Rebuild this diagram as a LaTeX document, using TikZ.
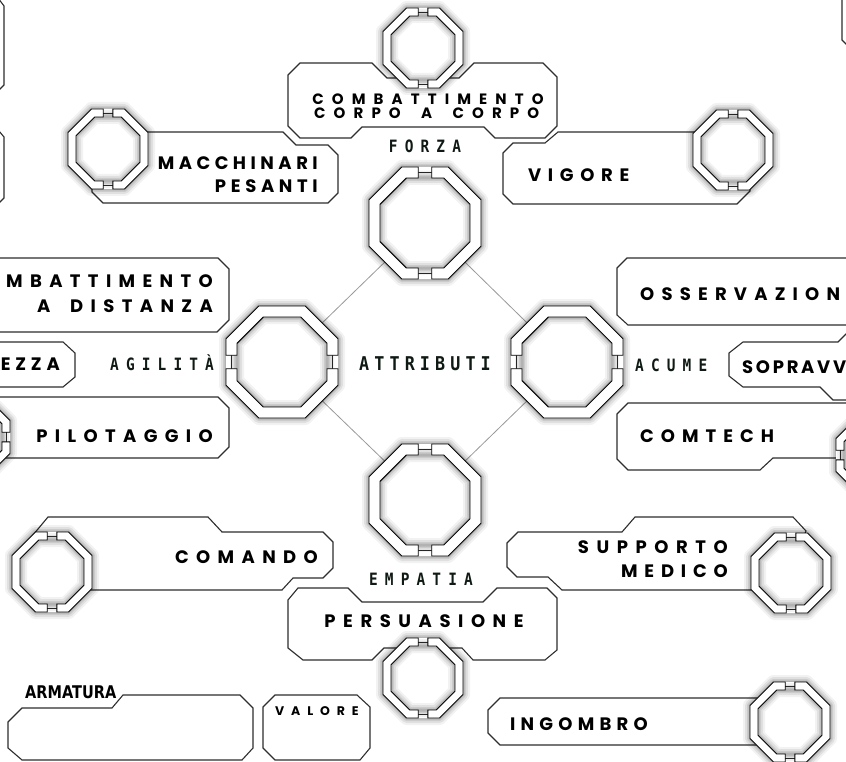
\documentclass[tikz,border=0pt]{standalone}
\usepackage{fontspec}
\newfontfamily\skillfont{Poppins}[UprightFont=* Bold]
\newfontfamily\labfont{DejaVu Sans Mono}[UprightFont=* Bold, FakeStretch=0.85, LetterSpace=42]
\newfontfamily\attrfont{DejaVu Sans Mono}[UprightFont=* Bold, FakeStretch=0.88, LetterSpace=27]
\newfontfamily\armfont{DejaVu Sans}[UprightFont=* Bold, FakeStretch=0.83]
\newcommand{\lettersp}[2]{{\addfontfeatures{LetterSpace=#1}#2}}
\definecolor{labcol}{HTML}{101A14}
\definecolor{boxcol}{HTML}{2E2E2E}
\definecolor{diagcol}{HTML}{9A9A9A}
\tikzset{
  skillbox/.style={draw=boxcol, line width=1.1pt, fill=white, line join=miter},
  skilltxt/.style={inner sep=0pt, text height=13pt, text depth=0pt, font={\skillfont\fontsize{18}{18}\selectfont}, text=black},
  ccctxt/.style={inner sep=0pt, text height=10pt, text depth=0pt, font={\skillfont\fontsize{15}{15}\selectfont}, text=black},
  smalltxt/.style={inner sep=0pt, text height=9pt, text depth=0pt, font={\skillfont\fontsize{12.5}{12.5}\selectfont}, text=black},
  labtxt/.style={inner sep=0pt, text height=12pt, text depth=0pt, font={\labfont\fontsize{17}{17}\selectfont}, text=labcol},
  attrtxt/.style={inner sep=0pt, text height=14pt, text depth=0pt, font={\attrfont\fontsize{19}{19}\selectfont}, text=labcol},
  armtxt/.style={inner sep=0pt, text height=13pt, text depth=0pt, font={\armfont\fontsize{17.5}{17.5}\selectfont}, text=black},
  ringpart/.style={draw=black, line width=0.9pt, fill=white, line join=miter},
  ringbridge/.style={draw=black!85, line width=0.9pt},
  diamondline/.style={draw=diagcol, line width=0.8pt},
}
% #1 coordinate name, #2 apothem, #3 thickness, #4 rotation
\newcommand{\ringicon}[4]{%
  \begin{scope}[shift={(#1)},rotate=#4]
    \pgfmathsetmacro\RA{#2}\pgfmathsetmacro\RF{#2*0.41421}%
    \pgfmathsetmacro\RI{#2-#3}\pgfmathsetmacro\RIF{(#2-#3)*0.41421}%
    \pgfmathsetmacro\RG{#2*0.12}\pgfmathsetmacro\RM{#2-#3/2}%
    \foreach \w/\o in {14/0.05,10/0.07,6/0.09,3/0.12}{%
      \draw[line width=\w pt, black, opacity=\o, line join=round]
        (-\RF,-\RA)--(\RF,-\RA)--(\RA,-\RF)--(\RA,\RF)--(\RF,\RA)--(-\RF,\RA)--(-\RA,\RF)--(-\RA,-\RF)--cycle;}
    \fill[white] (-\RF,-\RA)--(\RF,-\RA)--(\RA,-\RF)--(\RA,\RF)--(\RF,\RA)--(-\RF,\RA)--(-\RA,\RF)--(-\RA,-\RF)--cycle;
    \foreach \w/\o in {14/0.05,10/0.07,6/0.09,3/0.12}{%
      \draw[line width=\w pt, black, opacity=\o, line join=round]
        (-\RIF,-\RI)--(\RIF,-\RI)--(\RI,-\RIF)--(\RI,\RIF)--(\RIF,\RI)--(-\RIF,\RI)--(-\RI,\RIF)--(-\RI,-\RIF)--cycle;}
    \draw[ringbridge] (-\RG,-\RM)--(\RG,-\RM) (-\RG,\RM)--(\RG,\RM);
    \draw[ringpart] (\RG,-\RA)--(\RF,-\RA)--(\RA,-\RF)--(\RA,\RF)--(\RF,\RA)--(\RG,\RA)--(\RG,\RI)--(\RIF,\RI)--(\RI,\RIF)--(\RI,-\RIF)--(\RIF,-\RI)--(\RG,-\RI)--cycle;
    \draw[ringpart] (-\RG,-\RA)--(-\RF,-\RA)--(-\RA,-\RF)--(-\RA,\RF)--(-\RF,\RA)--(-\RG,\RA)--(-\RG,\RI)--(-\RIF,\RI)--(-\RI,\RIF)--(-\RI,-\RIF)--(-\RIF,-\RI)--(-\RG,-\RI)--cycle;
  \end{scope}}
\begin{document}
\begin{tikzpicture}[x=1pt,y=-1pt]
\useasboundingbox (0,0) rectangle (846,762);
\clip (0,0) rectangle (846,762);
\fill[white] (0,0) rectangle (846,762);
% ring centres
\coordinate (rF) at (425,223);
\coordinate (rA) at (282,362);
\coordinate (rC) at (567,362);
\coordinate (rE) at (425,500);
\coordinate (rCCC) at (423,48);
\coordinate (rMAC) at (108,149);
\coordinate (rVIG) at (733,150);
\coordinate (rCOM) at (52,572);
\coordinate (rSUP) at (791,573);
\coordinate (rPER) at (423,678);
\coordinate (rING) at (790,722);
\coordinate (rPIL) at (-30,437);
\coordinate (rCT) at (876,455);
% boxes at the edges
\draw[skillbox] (-20,-2)--(-2,-2)--(4,6)--(4,85)--(-1,90)--(-20,90)--cycle;
\draw[skillbox] (-20,131)--(-1,131)--(4,137)--(4,198)--(-1,203)--(-20,203)--cycle;
\draw[skillbox] (842,-5)--(842,40)--(848,46)--(860,46)--(860,-5)--cycle;
% skill boxes
\draw[skillbox] (300,63)--(372,63)--(387,78)--(459,78)--(474,63)--(543,63)--(557,77)--(557,126)--(545,138)--(495,138)--(484,127)--(362,127)--(351,138)--(300,138)--(288,126)--(288,75)--cycle;
\draw[skillbox] (140,132)--(283,132)--(296,145)--(328,145)--(338,155)--(338,193)--(328,203)--(103,203)--(92,192)--(92,180)--cycle;
\draw[skillbox] (700,132)--(558,132)--(545,143)--(513,143)--(503,153)--(503,194)--(513,204)--(737,204)--(750,191)--(750,180)--cycle;
\draw[skillbox] (-20,258)--(218,258)--(229,269)--(229,320)--(217,332)--(-20,332)--cycle;
\draw[skillbox] (-20,342)--(63,342)--(75,353)--(75,377)--(63,387)--(-20,387)--cycle;
\draw[skillbox] (-20,397)--(218,397)--(229,408)--(229,447)--(218,458)--(-20,458)--cycle;
\draw[skillbox] (870,258)--(627,258)--(617,268)--(617,315)--(628,325)--(870,325)--cycle;
\draw[skillbox] (743,342)--(838,342)--(846,334)--(870,334)--(870,400)--(833,400)--(820,387)--(743,387)--(729,376)--(729,353)--cycle;
\draw[skillbox] (628,403)--(870,403)--(870,458)--(773,458)--(760,470)--(628,470)--(617,459)--(617,414)--cycle;
\draw[skillbox] (33,535)--(48,517)--(208,517)--(222,532)--(323,532)--(333,542)--(333,568)--(323,578)--(293,578)--(282,590)--(88,590)--cycle;
\draw[skillbox] (507,543)--(518,532)--(622,532)--(635,517)--(793,517)--(806,531)--(800,545)--(760,590)--(562,590)--(548,577)--(517,577)--(507,567)--cycle;
\draw[skillbox] (298,588)--(348,588)--(362,602)--(483,602)--(497,588)--(547,588)--(557,598)--(557,650)--(545,660)--(473,660)--(462,648)--(384,648)--(372,660)--(303,660)--(288,648)--(288,600)--cycle;
\draw[skillbox] (500,698)--(765,698)--(765,745)--(500,745)--(488,733)--(488,710)--cycle;
\draw[skillbox] (123,695)--(240,695)--(253,708)--(253,748)--(242,760)--(22,760)--(8,748)--(8,722)--(22,708)--(112,708)--cycle;
\draw[skillbox] (275,695)--(357,695)--(370,707)--(370,748)--(360,760)--(275,760)--(263,748)--(263,707)--cycle;
% diamond
\draw[diamondline] (rF) -- (rA);
\draw[diamondline] (rA) -- (rE);
\draw[diamondline] (rE) -- (rC);
\draw[diamondline] (rC) -- (rF);
% rings
\ringicon{rF}{56}{11}{0}
\ringicon{rA}{56}{11}{90}
\ringicon{rC}{56}{11}{90}
\ringicon{rE}{56}{11}{0}
\ringicon{rCCC}{40}{8}{0}
\ringicon{rMAC}{40}{8}{0}
\ringicon{rVIG}{40}{8}{0}
\ringicon{rCOM}{40}{8}{0}
\ringicon{rSUP}{40}{8}{0}
\ringicon{rPER}{40}{8}{0}
\ringicon{rING}{40}{8}{0}
\ringicon{rPIL}{40}{8}{90}
\ringicon{rCT}{40}{8}{90}
% texts
\node[ccctxt, anchor=base] (tCCC1) at (428,105) {\lettersp{54}{COMBATTIMENTO}};
\node[ccctxt, anchor=base west] (tCCC2a) at (314,118.5) {\lettersp{54}{CORPO}};
\node[ccctxt, anchor=base west] (tCCC2b) at ([xshift=20pt]tCCC2a.base east) {\lettersp{54}{A}};
\node[ccctxt, anchor=base west] (tCCC2c) at ([xshift=20pt]tCCC2b.base east) {\lettersp{54}{CORPO}};
\node[labtxt, anchor=base] (tFOR) at (425,153) {FORZA};
\node[skilltxt, anchor=base east] (tMAC1) at (318,170) {\lettersp{25}{MACCHINARI}};
\node[skilltxt, anchor=base east] (tMAC2) at (318,193) {\lettersp{26}{PESANTI}};
\node[skilltxt, anchor=base west] (tVIG) at (528,182) {\lettersp{37}{VIGORE}};
\node[skilltxt, anchor=base east] (tDIS1) at (213,287) {\lettersp{41}{MBATTIMENTO}};
\node[skilltxt, anchor=base west] (tDIS2a) at (37,312) {\lettersp{41}{A}};
\node[skilltxt, anchor=base east] (tDIS2b) at (213,312) {\lettersp{41}{DISTANZA}};
\node[skilltxt, anchor=base east] (tEZZ) at (60,370) {\lettersp{27}{EZZA}};
\node[labtxt, anchor=base west] (tAGI) at (110,370) {AGILITÀ};
\node[skilltxt, anchor=base east] (tPIL) at (213,442) {\lettersp{41}{PILOTAGGIO}};
\node[attrtxt, anchor=base] (tATT) at (425,370) {ATTRIBUTI};
\node[labtxt, anchor=base west] (tACU) at (635,371) {ACUME};
\node[skilltxt, anchor=base west] (tOSS) at (640,300) {\lettersp{40}{OSSERVAZION}};
\node[skilltxt, anchor=base west] (tSOP) at (742,373) {\lettersp{15}{SOPRAVV}};
\node[skilltxt, anchor=base west] (tCT) at (640,442) {\lettersp{39}{COMTECH}};
\node[skilltxt, anchor=base east] (tCOM) at (318,563) {\lettersp{41}{COMANDO}};
\node[skilltxt, anchor=base east] (tSUP1) at (728,553) {\lettersp{42}{SUPPORTO}};
\node[skilltxt, anchor=base east] (tSUP2) at (728,577) {\lettersp{38}{MEDICO}};
\node[labtxt, anchor=base] (tEMP) at (421,585) {EMPATIA};
\node[skilltxt, anchor=base] (tPER) at (424,627) {\lettersp{42}{PERSUASIONE}};
\node[skilltxt, anchor=base west] (tING) at (510,730) {\lettersp{29}{INGOMBRO}};
\node[smalltxt, anchor=base west] (tVAL) at (275,715) {\lettersp{55}{VALORE}};
\node[armtxt, anchor=base west] (tARM) at (25,698) {ARMATURA};
\end{tikzpicture}
\end{document}
